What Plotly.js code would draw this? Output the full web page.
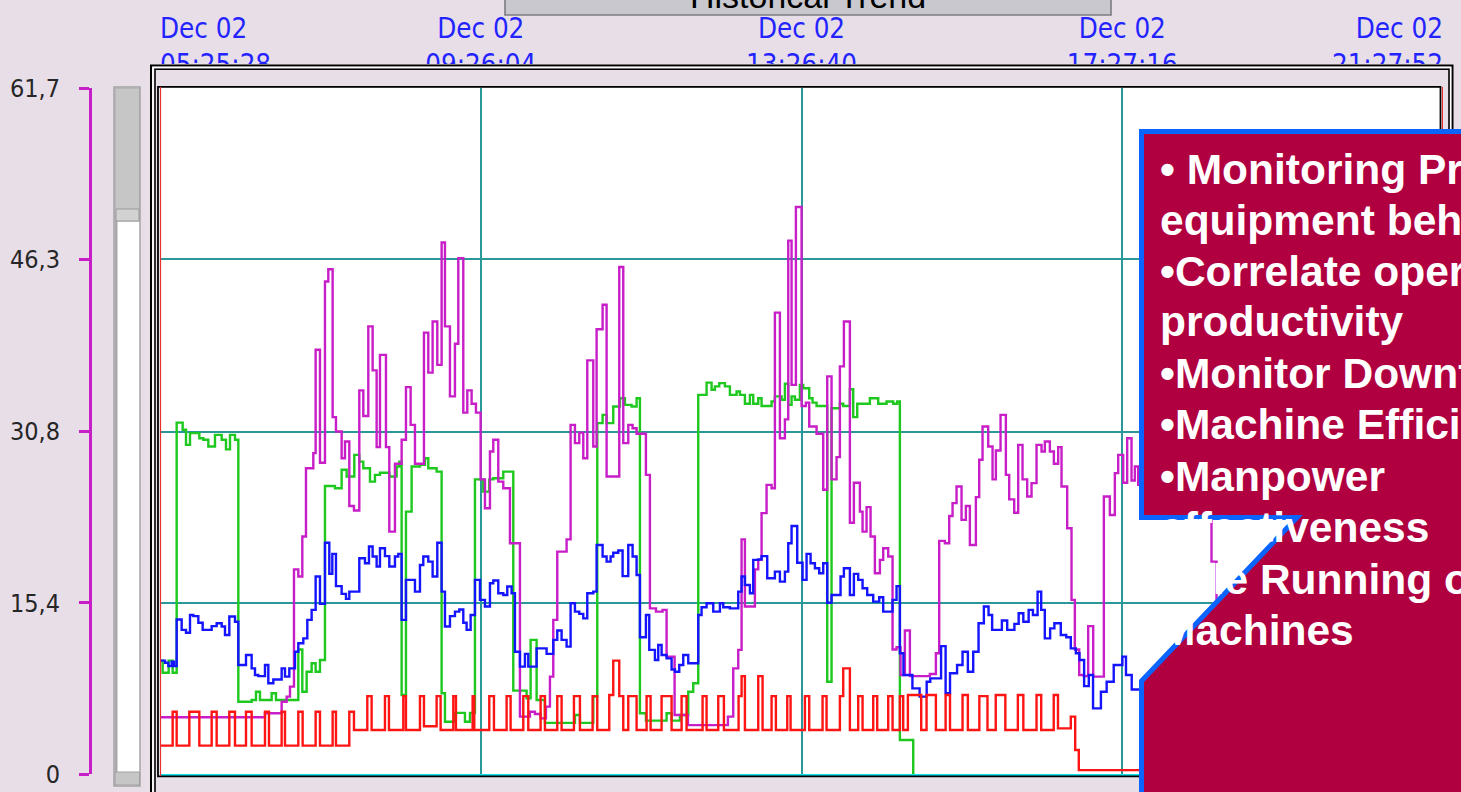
<!DOCTYPE html>
<html><head><meta charset="utf-8">
<script src="https://cdn.plot.ly/plotly-3.0.1.min.js"></script>
<style>html,body{margin:0;padding:0;background:#e8dee8;overflow:hidden}#chart{width:1461px;height:792px}</style>
</head><body><div id="chart"></div>
<script>
// ---- data (time in minutes after Dec 02 05:25:28, values in chart units) ----
const tickMinutes = [0, 240.6, 481.2, 721.8, 962.4];
const yTickVals = [0, 15.4, 30.8, 46.3, 61.7];
const yTickText = ['0', '15,4', '30,8', '46,3', '61,7'];

const magentaT = [0,78.75,91.25,95,97.5,100.5,103.75,106.75,109.5,115,116.75,120,123.75,126.25,129.5,132,136.25,138.75,142,145.5,149.5,152.5,156.25,159.5,162.5,165,169.5,172,176.25,181.25,184.5,188,191.25,198,201.25,204.5,208,211.25,213.75,217.5,221.25,223.75,227.5,230.5,233.75,237,240.5,243.75,247.5,250,253.75,257.5,262.5,270,277.5,281.25,285.5,289.5,292.5,295,298,305,308,311.25,314.5,317.5,320.5,325,327.5,332,335,344.5,347.5,351.25,354.5,357.5,364.5,367.5,372,377,380,386,396,426,430,433.75,436.25,438.75,446.25,448.75,451.25,455,458.75,461.25,465,468.75,471.25,473.75,477,481.25,484.5,487,492.5,497.5,500.5,503.75,507.5,510,513,517.5,520.5,525,527,530,533,536.25,540,542.5,546.25,549.5,552.5,555.5,558.75,562.5,577.5,582,584.5,588.75,592,594.5,597.5,601.25,604.5,607.5,612,614.5,617,621.25,624.5,627,630.5,634.5,637,640.75,643.75,647,650.5,653.75,657.5,661.25,663.75,667.5,670.5,673.75,676.25,680.5,683.75,686.25,689.5,693,696.25,700,708,712.5,716.25,718.75,722.5,725.5,728.75,731.25,733.75,788.75,792.5,796];
const magentaV = [5.1,5.46,6.5,6.96,7.86,18.4,17.76,21.36,27.5,28.86,38.16,28.0,44.3,45.4,32.1,30.8,28.4,29.9,24.1,23.7,34.5,32.2,40.26,36.3,29.4,37.7,29.4,21.8,27.9,30.06,34.8,31.4,27.9,39.7,36.1,40.7,36.8,47.8,40.26,33.96,38.7,46.4,32.5,34.5,33.3,32.5,26.5,23.9,29.0,30.06,26.3,25.7,20.76,5.16,5.6,5.4,5.0,6.06,8.76,13.86,20.0,21.1,31.4,29.76,30.7,28.4,37.2,29.46,40.0,42.2,26.76,45.6,29.76,31.4,31.1,30.6,26.9,14.9,14.6,14.76,10.56,5.3,4.4,5.16,9.5,11.16,21.1,15.06,18.4,19.26,23.46,26.0,25.7,41.5,30.2,31.9,47.97,35.0,51.0,33.1,33.4,31.26,30.6,25.56,35.76,26.5,28.5,36.66,40.7,22.6,26.2,23.6,21.8,24.0,21.36,18.06,19.26,20.3,19.56,11.2,11.4,8.9,12.9,8.8,9.0,10.86,20.97,20.76,23.2,24.36,25.86,22.86,24.1,20.6,24.9,28.26,31.26,29.46,26.5,29.1,32.3,26.9,24.7,23.5,29.6,26.5,24.96,26.16,29.6,29.0,29.9,29.0,27.9,29.4,25.86,22.1,15.66,11.2,8.9,8.8,13.3,8.76,24.96,23.3,27.06,28.7,26.2,30.2,26.4,27.66,26.0,19.1,9.0,9.0];

const greenT = [0,2,6.5,9.5,12.5,17,19.5,22.5,29.5,32.5,36.25,41.25,46.25,49.5,52.5,56.25,58.75,68.75,72,75,83.75,87,103.75,106.75,110,113.75,116.75,120,123.75,131.25,136.25,140,145.75,149.5,152.5,157.5,161.25,165,172,177.5,179.5,181.25,184.5,188.75,195,198.75,201.25,207.5,211.25,213.75,221.25,228.75,232.5,236.25,242.5,247,250,257.5,265,275,278,282.5,288.75,311.25,315,325,328,332,335,340,345,348.75,353.75,357.5,360,364.5,380,383.75,390,396.25,400,403.75,410,413.75,416.25,419.5,423.75,427.5,432.5,435,438.75,442.5,445,448.75,451.25,458.75,461.25,466.25,468.75,471.25,473.75,476.25,480,482.5,487,489.5,492.5,500.5,503.75,510,512.5,517.5,520,523,532.5,538.75,545,550,553,555,565,566];
const greenV = [10.2,9.1,10.2,9.1,31.6,30.96,29.6,30.66,30.2,30.06,29.46,30.5,30.06,29.2,30.5,30.06,6.5,6.66,7.4,6.66,7.26,6.66,11.2,7.4,9.2,9.96,9.2,10.26,25.9,25.7,27.36,26.76,28.7,28.1,27.5,26.3,26.9,27.1,26.76,27.66,28.1,7.1,23.6,27.66,27.8,28.4,27.5,27.2,7.26,4.7,5.5,4.7,5.5,26.5,25.4,26.5,26.6,27.2,7.5,6.8,12.06,6.66,4.6,5.3,4.6,6.96,31.56,32.3,31.56,33.06,33.8,33.2,33.06,33.8,5.46,4.8,5.46,4.8,5.3,7.4,8.16,34.1,35.2,34.56,34.86,35.16,34.86,34.1,34.4,34.1,33.3,34.1,33.3,33.8,33.1,33.5,33.96,33.66,35.1,33.2,33.96,33.66,35.0,34.7,33.8,33.4,33.1,8.3,32.9,33.3,33.1,34.6,32.1,33.3,33.8,33.3,33.5,33.3,33.5,3.06,0,0];

const blueT = [0,3.75,6.25,8.75,10.5,12.5,16.25,19.5,22.5,25,28.75,32,38.75,42.5,46.25,48.75,52,56.25,58.75,64.5,68.75,71.25,73.75,78.75,81.25,85,91.25,93.75,97,101.25,103.75,107.5,110.5,113.75,116.75,120,123.75,127,129.25,132,136.25,139.5,142,149.5,153.75,156.75,159.5,162.5,165,168.75,172,176.25,178.75,181.25,184.5,191.25,195,197.5,201.25,204.5,208,211.25,213.75,217.5,221.25,224.5,227.5,230,233,236.25,240,243.75,247.5,250,253.75,257.5,260.5,263.75,266.25,270,273.75,276.25,282.5,290,295,298,301.25,305,308,311.25,314.5,317.5,320.5,325,327.5,332,335,338,340,343.75,347,351.25,354.5,357.5,360,364.5,367,371.25,373.75,376.25,380,383.75,386.25,389.5,392.5,396.25,403.75,406.25,410,415,420,422.5,427.5,433.75,436.25,438.75,442.5,445,448.75,451.25,455.5,461.25,465,468.75,471.25,473.75,478,482,485,488,491.25,494.5,497.5,500.5,503.75,510.5,513,517.5,520.5,523.75,527,530.5,535,539.5,542.5,549.5,552.5,555,557.7,564.4,569.8,575.1,577.8,585.9,589.3,592.6,597.9,602,606,610,614,618,621.5,624.2,631.5,635.5,640.9,644.1,647.6,651.6,654.8,658.3,661,663.7,667.7,670.9,675.7,679.8,683.2,687,689.7,693.2,696.7,699.9,705.8,710.1,715.4,721.9,724.6,728.9,736];
const blueV = [10.2,10.0,9.7,10.1,9.7,13.9,12.96,12.7,14.3,14.2,13.6,12.96,13.3,13.56,13.26,12.5,14.16,13.7,9.8,10.7,9.5,8.9,8.8,9.8,8.16,8.5,9.5,8.76,9.5,11.0,11.76,12.2,13.86,14.76,17.76,15.3,20.8,18.0,19.8,16.9,16.2,15.75,16.4,19.4,18.96,20.46,19.56,18.66,20.3,19.6,18.66,19.56,19.8,13.86,17.46,16.4,18.8,19.56,19.1,17.76,20.8,16.4,13.26,14.2,14.6,14.8,13.6,12.96,14.3,17.46,15.66,15.06,17.16,17.4,16.26,16.1,16.86,16.26,11.0,9.66,10.8,9.66,11.3,10.8,12.06,12.9,12.06,11.46,15.36,14.6,14.4,14.0,16.26,16.4,20.6,19.56,19.1,19.56,19.9,20.1,17.8,20.6,19.56,17.9,12.3,14.3,11.16,10.26,11.6,10.7,10.4,9.4,9.2,9.8,10.7,9.96,14.3,15.0,15.36,14.6,15.36,15.0,14.9,16.4,17.76,17.0,16.26,19.26,19.3,19.6,17.6,18.2,17.3,18.2,20.76,22.3,19.0,17.46,19.8,18.96,18.5,18.06,18.96,15.4,16.1,17.76,18.5,16.1,18.0,17.46,16.7,16.1,15.5,15.9,14.6,15.66,16.9,10.86,8.9,7.7,6.96,8.3,8.6,11.5,7.26,9.06,9.8,11.0,9.2,11.0,13.56,15.06,14.3,12.96,13.8,12.96,13.5,14.46,13.7,14.76,14.3,16.4,14.76,12.2,13.1,13.56,12.5,12.3,11.3,10.86,10.26,7.9,8.9,5.9,7.4,8.3,9.8,10.56,8.9,7.6,7.6];

const redT = [0,9.5,12.5,22,29.5,38.75,42.5,52,56.25,64.5,68.75,78.75,81.75,91.25,93.75,103.75,107,116.75,120,129.5,132,142,145.5,155.5,158.75,168.75,171.75,182.5,184.5,195,198,207.5,210.5,220,222,234.5,235.75,247,250.5,260,263,272.5,276.25,285.5,288.75,298,301.25,310.5,315,324.5,328,337,340,344.5,347.5,351.25,357.5,365,368,376.25,383.75,391.25,395,407,410,418.75,423,434,436.25,438.75,448.75,452,458.75,462,470.5,473,483.75,487,497,500,510,512.5,517.5,523.75,527,535,538,546.25,549.5,555,557.5,561,571,575,582,589.3,592.6,602,606,614.6,620.7,626.9,634.1,643.5,647.6,657.5,661,670.4,673.6,683.2,686.5,689.2,736];
const redV = [2.55,5.6,2.55,5.6,2.55,5.6,2.55,5.6,2.55,5.6,2.55,5.6,2.55,5.6,2.55,5.6,2.55,5.6,2.55,5.6,2.55,5.6,3.96,7.0,3.96,7.0,3.96,7.0,3.96,7.0,4.3,7.0,3.96,7.0,3.96,7.0,3.96,7.0,3.96,7.0,3.96,7.0,3.96,7.0,3.96,7.0,3.96,7.0,3.96,7.0,3.96,7.1,10.2,7.0,3.96,7.0,3.96,7.0,3.96,7.0,3.96,7.0,3.96,7.0,3.96,7.0,3.96,7.0,8.8,3.96,8.8,3.96,7.0,3.96,7.0,3.96,7.0,3.96,7.0,3.96,7.0,9.5,3.96,7.0,3.96,7.0,3.96,7.0,3.96,7.0,3.96,7.1,3.96,7.1,3.96,7.1,3.96,7.1,3.96,7.0,3.96,7.1,3.96,7.1,3.96,7.1,3.96,7.1,4.1,5.16,2.16,0.35,0.35];

// ---- page geometry helpers (plot area: x 160..1443, y 88..774) ----
const W = 1461, H = 792, L = 160, R = 1443, T = 88, B = 774;
const PX = x => (x - L) / (R - L);
const PY = y => (B - y) / (B - T);
const t0 = Date.UTC(2008, 11, 2, 5, 25, 28);
const toX = m => t0 + Math.round(m * 60000);

const BG = '#e8dee8', TEAL = '#2a9898', MAG = '#c81ec8';

function step(Tm, V, color) {
  return {type: 'scatter', mode: 'lines', x: Tm.map(toX), y: V,
          line: {shape: 'hv', color: color, width: 2.4}, hoverinfo: 'skip', showlegend: false};
}
const traces = [
  step(greenT, greenV, '#1ec81e'),
  step(magentaT, magentaV, MAG),
  step(blueT, blueV, '#1414ff'),
  step(redT, redV, '#ff1414'),
  {type: 'scatter', x: [], y: [], xaxis: 'x2', showlegend: false},
  {type: 'scatter', x: [], y: [], xaxis: 'x3', showlegend: false},
  {type: 'scatter', x: [], y: [], xaxis: 'x4', showlegend: false},
  {type: 'scatter', x: [], y: [], yaxis: 'y2', showlegend: false}
];

const xRange = [toX(tickMinutes[0]), toX(tickMinutes[tickMinutes.length - 1])];
const topFont = {family: 'DejaVu Sans Condensed', size: 27.5, color: '#2323ff'};
function topAxis(vals, pos) {
  return {overlaying: 'x', side: 'top', anchor: 'y', type: 'date', range: xRange,
    tickmode: 'array', tickvals: vals.map(toX), tickformat: '%b %d<br>%H:%M:%S',
    ticklabelposition: pos, ticks: '', showgrid: false, showline: false, zeroline: false,
    tickfont: topFont, ticklabelstandoff: 8};
}

const rectPx = (x0, y0, x1, y1, extra) => Object.assign({type: 'rect', xref: 'paper', yref: 'paper',
  x0: PX(x0), x1: PX(x1), y0: PY(y1), y1: PY(y0), layer: 'above'}, extra);
const pathPx = (pts, extra) => Object.assign({type: 'path', xref: 'paper', yref: 'paper', layer: 'above',
  path: 'M' + pts.map(p => PX(p[0]) + ',' + PY(p[1])).join('L') + 'Z'}, extra);
const NOFILL = 'rgba(0,0,0,0)';

const shapes = [
  // frame band above plot (covers lower part of time labels)
  rectPx(149, 64, 1455, 86, {fillcolor: BG, line: {width: 0}}),
  rectPx(151, 65.5, 1452.5, 830, {fillcolor: NOFILL, line: {color: '#000', width: 2}}),
  rectPx(153, 67.4, 1450.6, 830, {fillcolor: NOFILL, line: {color: '#ffffff', width: 1.4}}),
  rectPx(155, 69.2, 1449, 830, {fillcolor: NOFILL, line: {color: '#000', width: 1.6}}),
  rectPx(158, 86.8, 1440.5, 776.3, {fillcolor: NOFILL, line: {color: '#000', width: 1.8}}),
  // red cursor lines at both ends of the time range
  {type: 'line', xref: 'x', yref: 'paper', x0: xRange[0], x1: xRange[0], y0: PY(776), y1: PY(87), line: {color: '#e83030', width: 2.2}, layer: 'above'},
  {type: 'line', xref: 'x', yref: 'paper', x0: xRange[1], x1: xRange[1], y0: PY(776), y1: PY(87), line: {color: '#e83030', width: 2.2}, layer: 'above'},
  // scrollbar
  rectPx(114, 87, 140, 786, {fillcolor: '#ffffff', line: {color: '#a4a4a4', width: 1.5}}),
  rectPx(114.5, 87.5, 117.5, 785.5, {fillcolor: '#a8a8a8', line: {width: 0}}),
  rectPx(115, 88, 139.5, 221, {fillcolor: '#c6c6c6', line: {color: '#a8a8a8', width: 1}}),
  rectPx(116, 209, 139, 221, {fillcolor: '#d2d2d2', line: {color: '#9a9a9a', width: 1}}),
  rectPx(115, 772, 139.5, 785, {fillcolor: '#c6c6c6', line: {color: '#a0a0a0', width: 1}}),
  // title button
  rectPx(505, -10, 1111, 15, {fillcolor: '#c8c8ce', line: {color: '#7c7c80', width: 1.6}}),
  // callout box
  pathPx([[1141.5, 131.5], [1490, 131.5], [1490, 820], [1141.5, 820], [1141.5, 681], [1297, 517.5], [1141.5, 517.5]],
         {fillcolor: '#b00040', line: {color: '#0a64ff', width: 5}})
];

const boxLines = ['• Monitoring Process &', 'equipment behaviour', '•Correlate operation with', 'productivity',
  '•Monitor Downtime', '•Machine Efficiency', '•Manpower', 'effectiveness', '•Idle Running of', 'Machines'];
const boxBaselines = [183, 234, 285, 335, 387, 438, 490, 541, 593, 644];
const annotations = boxLines.map((t, i) => ({xref: 'paper', yref: 'paper', x: PX(1158), y: PY(boxBaselines[i] - 14),
  xanchor: 'left', yanchor: 'middle', text: t, showarrow: false,
  font: {family: 'Liberation Sans, Arial, sans-serif', size: 42.5, color: '#ffffff', weight: 'bold'}}));
annotations.push({xref: 'paper', yref: 'paper', x: PX(808), y: PY(-4), xanchor: 'center', yanchor: 'middle',
  text: 'Historical Trend', showarrow: false, font: {family: 'Liberation Sans, Arial, sans-serif', size: 34, color: '#000'}});

const layout = {
  width: W, height: H, margin: {l: L, r: W - R, t: T, b: H - B, pad: 0},
  paper_bgcolor: BG, plot_bgcolor: '#ffffff', showlegend: false,
  xaxis: {type: 'date', range: xRange, tickmode: 'array', tickvals: tickMinutes.map(toX), showticklabels: false,
    ticks: '', showgrid: true, gridcolor: TEAL, gridwidth: 2, zeroline: false,
    showline: true, linecolor: '#10e0e8', linewidth: 2},
  xaxis2: topAxis(tickMinutes.slice(0, 1), 'outside right'),
  xaxis3: topAxis(tickMinutes.slice(1, 4), 'outside'),
  xaxis4: topAxis(tickMinutes.slice(4), 'outside left'),
  yaxis: {range: [0, 61.7], tickmode: 'array', tickvals: yTickVals.slice(1, 4), showticklabels: false, ticks: '',
    showgrid: true, gridcolor: TEAL, gridwidth: 2, zeroline: false, showline: false},
  yaxis2: {overlaying: 'y', anchor: 'free', position: 0, shift: -70, side: 'left', range: [0, 61.7],
    tickmode: 'array', tickvals: yTickVals, ticktext: yTickText, showgrid: false, zeroline: false,
    showline: true, linecolor: MAG, linewidth: 3, ticks: 'outside', ticklen: 10, tickwidth: 3, tickcolor: MAG,
    tickfont: {family: 'DejaVu Sans Condensed', size: 25, color: '#262626'}, ticklabelstandoff: 14},
  shapes: shapes, annotations: annotations
};

Plotly.newPlot('chart', traces, layout, {staticPlot: true, displayModeBar: false});
</script></body></html>
